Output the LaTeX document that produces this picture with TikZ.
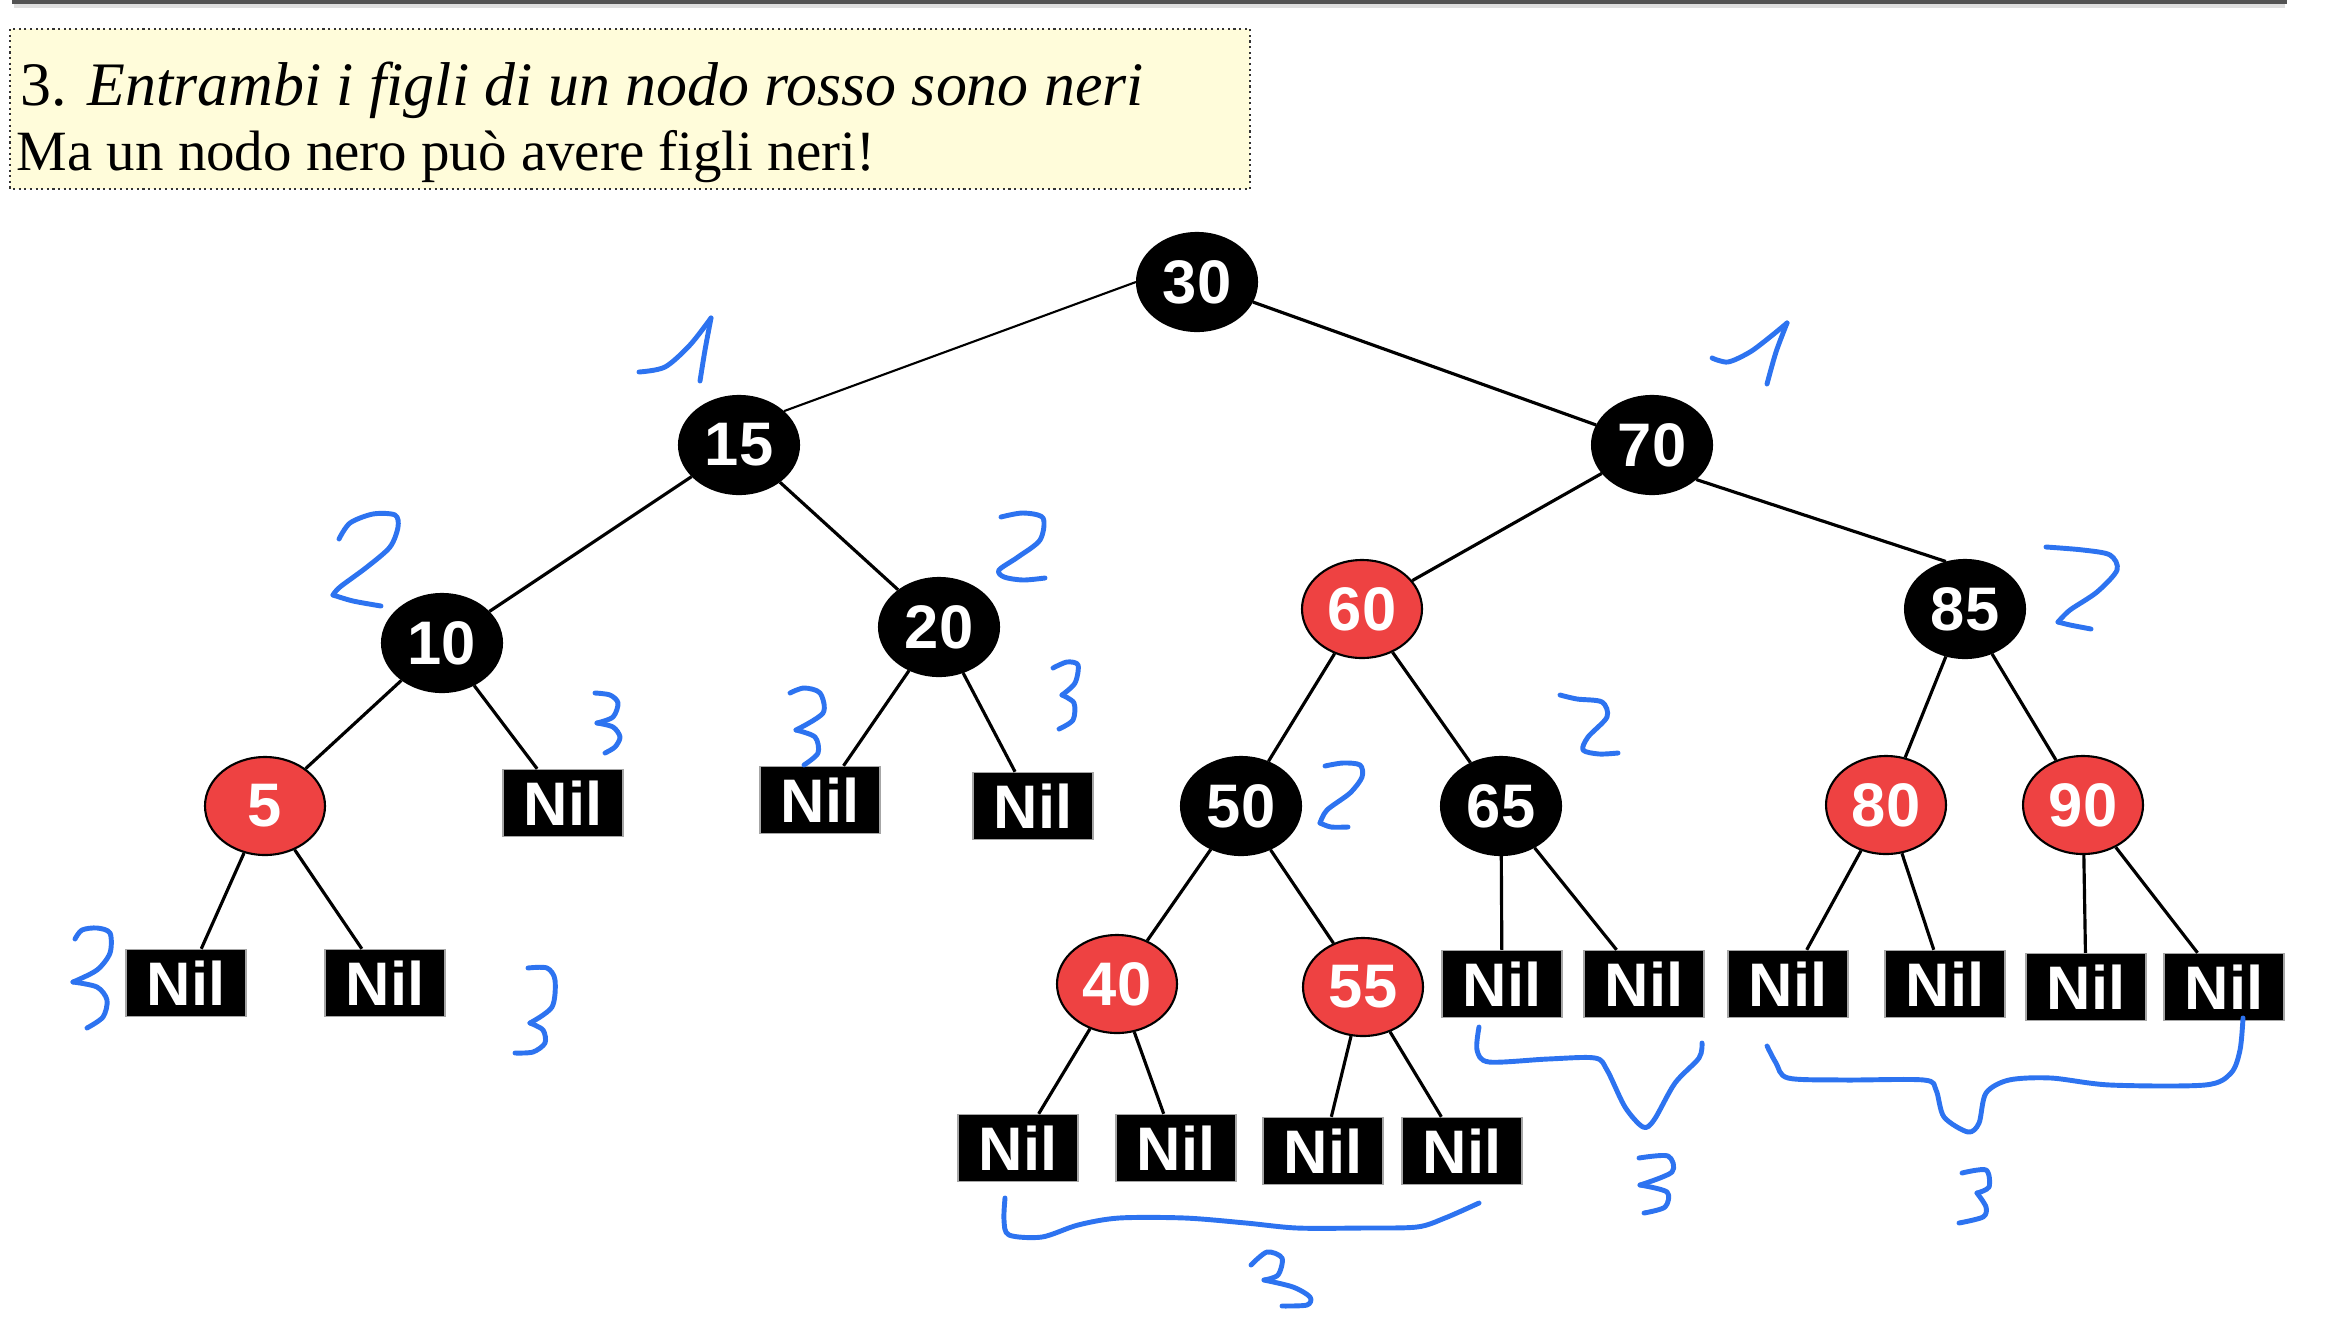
\documentclass[tikz,border=0pt]{standalone}
\usepackage{fontspec}
\setmainfont{Liberation Serif}
\newfontfamily\keyfont{Liberation Sans}
\usetikzlibrary{shapes.geometric}
\definecolor{rbred}{RGB}{238,66,66}
\definecolor{inkblue}{RGB}{45,115,240}
\definecolor{notefill}{RGB}{255,252,218}
\begin{document}
\begin{tikzpicture}[x=0.1mm, y=-0.1mm,
  blacknode/.style={ellipse, draw=black, line width=0.6pt, fill=black, text=white, inner sep=0pt,
    minimum width=12mm, minimum height=9.8mm, font=\keyfont\bfseries\fontsize{17.5}{17.5}\selectfont},
  rednode/.style={blacknode, fill=rbred},
  nilbox/.style={rectangle, draw=gray!70, line width=0.4pt, fill=black, text=white, inner sep=0pt,
    minimum width=12mm, minimum height=6.7mm, font=\keyfont\bfseries\fontsize{17.5}{17.5}\selectfont},
  edge/.style={line width=0.9pt},
  pen/.style={draw=inkblue, line width=1.4pt, line cap=round, line join=round}]
\useasboundingbox (0,0) rectangle (2328,1318);
% slide rule and note
\draw[gray!25, line width=1.2pt] (14,6) -- (2285,6);
\draw[gray!65!black, line width=0.9pt] (12,2) -- (2287,2);
\draw[fill=notefill, draw=black!80, densely dotted, line width=0.6pt] (10,29) rectangle (1250,189);
\draw (20,105) node(rule) [anchor=base west, inner sep=0pt, font=\fontsize{17.6}{20}\selectfont] {3. \textit{Entrambi i figli di un nodo rosso sono neri}};
\draw (16,170) node(note) [anchor=base west, inner sep=0pt, font=\fontsize{16.2}{18}\selectfont] {Ma un nodo nero può avere figli neri!};
% tree
\draw (1197,282) node(n30) [blacknode] {30};
\draw (739,445) node(n15) [blacknode] {15};
\draw (1652,445) node(n70) [blacknode] {70};
\draw (442,643) node(n10) [blacknode] {10};
\draw (939,627) node(n20) [blacknode] {20};
\draw (1362,609) node(n60) [rednode] {60};
\draw (1965,609) node(n85) [blacknode] {85};
\draw (265,806) node(n5) [rednode] {5};
\draw (563,803) node(nil10) [nilbox] {Nil};
\draw (820,800) node(nil20a) [nilbox] {Nil};
\draw (1033,806) node(nil20b) [nilbox] {Nil};
\draw (1241,806) node(n50) [blacknode] {50};
\draw (1501,806) node(n65) [blacknode] {65};
\draw (1886,805) node(n80) [rednode] {80};
\draw (2083,805) node(n90) [rednode] {90};
\draw (186,983) node(nil5a) [nilbox] {Nil};
\draw (385,983) node(nil5b) [nilbox] {Nil};
\draw (1117,984) node(n40) [rednode] {40};
\draw (1363,987) node(n55) [rednode] {55};
\draw (1502,984) node(nil65a) [nilbox] {Nil};
\draw (1644,984) node(nil65b) [nilbox] {Nil};
\draw (1788,984) node(nil80a) [nilbox] {Nil};
\draw (1945,984) node(nil80b) [nilbox] {Nil};
\draw (2086,987) node(nil90a) [nilbox] {Nil};
\draw (2224,987) node(nil90b) [nilbox] {Nil};
\draw (1018,1148) node(nil40a) [nilbox] {Nil};
\draw (1176,1148) node(nil40b) [nilbox] {Nil};
\draw (1323,1151) node(nil55a) [nilbox] {Nil};
\draw (1462,1151) node(nil55b) [nilbox] {Nil};
% links
\draw[line width=0.6pt] (n30.west) -- (n15.37);
\draw[edge] (n30) -- (n70);
\draw[edge] (n15) -- (n10);
\draw[edge] (n15) -- (n20);
\draw[edge] (n70) -- (n60);
\draw[edge] (n70.-38) -- (n85.112);
\draw[edge] (n10) -- (n5);
\draw[edge] (n10) -- (nil10);
\draw[edge] (n20) -- (nil20a);
\draw[edge] (n20) -- (nil20b);
\draw[edge] (n60) -- (n50);
\draw[edge] (n60) -- (n65);
\draw[edge] (n85) -- (n80);
\draw[edge] (n85) -- (n90);
\draw[edge] (n5) -- (nil5a);
\draw[edge] (n5) -- (nil5b);
\draw[edge] (n50) -- (n40);
\draw[edge] (n50) -- (n55);
\draw[edge] (n65) -- (nil65a);
\draw[edge] (n65) -- (nil65b);
\draw[edge] (n80) -- (nil80a);
\draw[edge] (n80) -- (nil80b);
\draw[edge] (n90) -- (nil90a);
\draw[edge] (n90) -- (nil90b);
\draw[edge] (n40) -- (nil40a);
\draw[edge] (n40) -- (nil40b);
\draw[edge] (n55) -- (nil55a);
\draw[edge] (n55) -- (nil55b);
% handwritten black heights
\draw[pen] plot[smooth] coordinates {(639,372) (665,367) (690,345) (711,318)};
\draw[pen] plot[smooth] coordinates {(711,318) (705,350) (700,381)};
\draw[pen] plot[smooth] coordinates {(1712,358) (1728,362) (1750,352) (1770,337) (1787,323)};
\draw[pen] plot[smooth] coordinates {(1787,323) (1776,352) (1767,384)};
\draw[pen] plot[smooth] coordinates {(339,539) (350,523) (373,514) (395,515) (398,527) (390,547) (367,567) (340,587) (333,595)};
\draw[pen] plot[smooth] coordinates {(333,595) (353,601) (381,606)};
\draw[pen] plot[smooth] coordinates {(1001,517) (1023,513) (1043,518) (1040,540) (1018,557) (999,570) (1004,577) (1023,580) (1045,578)};
\draw[pen] plot[smooth] coordinates {(2046,547) (2083,550) (2110,555) (2117,570) (2097,592) (2070,610) (2058,622)};
\draw[pen] plot[smooth] coordinates {(2058,622) (2070,625) (2091,629)};
\draw[pen] plot[smooth] coordinates {(1560,695) (1577,699) (1602,702) (1607,717) (1588,737) (1583,750) (1599,754) (1618,753)};
\draw[pen] plot[smooth] coordinates {(1325,766) (1343,763) (1360,765) (1362,777) (1350,793) (1327,810) (1320,823)};
\draw[pen] plot[smooth] coordinates {(1320,823) (1331,827) (1348,827)};
\draw[pen] plot[smooth] coordinates {(595,693) (610,695) (618,703) (613,717) (597,723)};
\draw[pen] plot[smooth] coordinates {(597,723) (613,727) (620,737) (615,747) (605,753)};
\draw[pen] plot[smooth] coordinates {(790,693) (804,688) (820,693) (823,713) (796,730)};
\draw[pen] plot[smooth] coordinates {(796,730) (815,737) (818,753) (804,765)};
\draw[pen] plot[smooth] coordinates {(1053,668) (1067,662) (1078,665) (1075,683) (1062,695)};
\draw[pen] plot[smooth] coordinates {(1062,695) (1074,703) (1073,720) (1059,729)};
\draw[pen] plot[smooth] coordinates {(75,939) (82,930) (97,928) (110,933) (110,953) (97,970) (73,982)};
\draw[pen] plot[smooth] coordinates {(73,982) (97,987) (107,1000) (103,1017) (87,1028)};
\draw[pen] plot[smooth] coordinates {(528,968) (547,968) (555,980) (552,1007) (530,1023)};
\draw[pen] plot[smooth] coordinates {(530,1023) (543,1030) (545,1043) (533,1052) (515,1053)};
% braces under the leaves
\draw[pen] plot[smooth] coordinates {(1005,1198) (1004,1220) (1009,1235) (1042,1237) (1078,1225) (1119,1218) (1185,1218) (1246,1223) (1297,1228) (1363,1228) (1417,1227) (1445,1218) (1479,1203)};
\draw[pen] plot[smooth] coordinates {(1251,1265) (1267,1252) (1282,1258) (1278,1275) (1264,1280)};
\draw[pen] plot[smooth] coordinates {(1264,1280) (1293,1287) (1310,1297) (1307,1305) (1282,1306)};
\draw[pen] plot[smooth] coordinates {(1479,1027) (1477,1050) (1489,1062) (1548,1059) (1595,1058) (1607,1070) (1625,1107) (1643,1127) (1654,1120) (1675,1083) (1699,1058) (1702,1043)};
\draw[pen] plot[smooth] coordinates {(1639,1158) (1668,1156) (1672,1172) (1640,1185)};
\draw[pen] plot[smooth] coordinates {(1640,1185) (1667,1192) (1665,1207) (1644,1213)};
\draw[pen] plot[smooth] coordinates {(1767,1046) (1776,1063) (1788,1078) (1844,1080) (1924,1080) (1936,1090) (1944,1117) (1968,1132) (1979,1123) (1986,1093) (2009,1080) (2051,1078) (2110,1085) (2205,1085) (2231,1073) (2240,1050) (2243,1018)};
\draw[pen] plot[smooth] coordinates {(1962,1173) (1986,1170) (1989,1187) (1977,1193)};
\draw[pen] plot[smooth] coordinates {(1977,1193) (1986,1207) (1983,1217) (1959,1223)};
\end{tikzpicture}
\end{document}
